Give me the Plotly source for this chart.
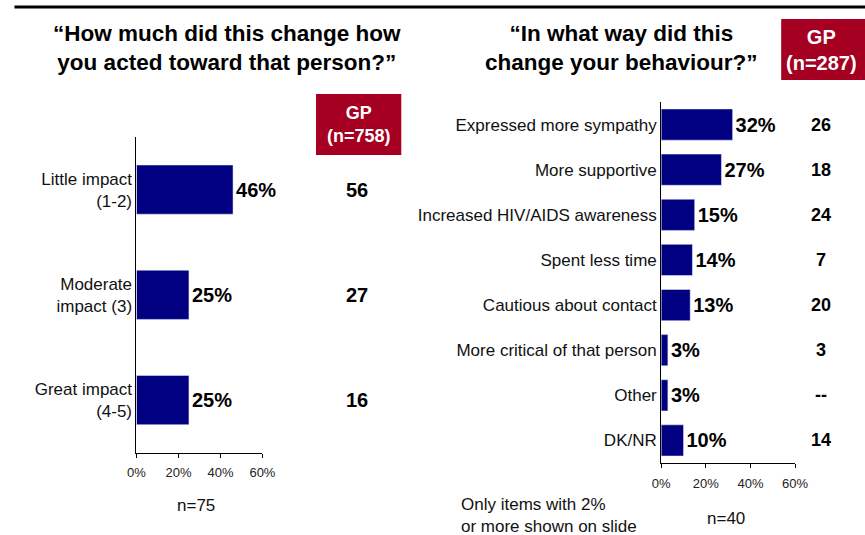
import plotly.graph_objects as go

# Left chart data
left_cats = ["Little impact<br>(1-2)", "Moderate<br>impact (3)", "Great impact<br>(4-5)"]
left_vals = [46, 25, 25]
left_gp = ["56", "27", "16"]

# Right chart data
right_cats = ["Expressed more sympathy", "More supportive", "Increased HIV/AIDS awareness",
              "Spent less time", "Cautious about contact", "More critical of that person",
              "Other", "DK/NR"]
right_vals = [32, 27, 15, 14, 13, 3, 3, 10]
right_gp = ["26", "18", "24", "7", "20", "3", "--", "14"]

x_ticks = [0, 20, 40, 60]

W, H = 865, 535
NAVY = "#000080"
RED = "#A50021"
ARIAL = "Liberation Sans, Arial, sans-serif"

def px(x):
    return (x - 4.5) / W

def py(y):
    return 1 - y / H

fig = go.Figure()
fig.add_trace(go.Bar(x=left_vals, y=left_cats, orientation="h", marker_color=NAVY,
                     width=0.467, text=[f"{v}%" for v in left_vals], textposition="outside",
                     textfont=dict(family=ARIAL, size=20, color="black", weight="bold"),
                     cliponaxis=False, hoverinfo="skip", xaxis="x", yaxis="y"))
fig.add_trace(go.Bar(x=right_vals, y=right_cats, orientation="h", marker_color=NAVY,
                     width=0.69, text=[f"{v}%" for v in right_vals], textposition="outside",
                     textfont=dict(family=ARIAL, size=20, color="black", weight="bold"),
                     cliponaxis=False, hoverinfo="skip", xaxis="x2", yaxis="y2"))

xcommon = dict(range=[0, 60], tickvals=x_ticks, ticktext=[f"{t}%" for t in x_ticks],
               showline=True, linecolor="black", linewidth=1, ticks="outside", ticklen=4,
               tickcolor="black", showgrid=False, zeroline=False, ticklabelstandoff=4,
               tickfont=dict(family=ARIAL, size=13, color="#222"))
ycommon = dict(type="category", showline=True, linecolor="black", linewidth=1, ticks="",
               showgrid=False, zeroline=False,
               tickfont=dict(family=ARIAL, size=17, color="#111"))

fig.update_layout(
    width=880, height=H, autosize=False, margin=dict(l=0, r=0, t=0, b=0),
    plot_bgcolor="white", paper_bgcolor="white", showlegend=False,
    xaxis=dict(domain=[px(133), px(260)], anchor="y", **xcommon),
    yaxis=dict(domain=[py(452.7), py(137)], anchor="x", range=[2.5, -0.5], **ycommon),
    xaxis2=dict(domain=[px(662), px(797)], anchor="y2", **xcommon),
    yaxis2=dict(domain=[py(463), py(102)], anchor="x2", range=[7.5, -0.5], **ycommon),
)

shapes = [
    dict(type="line", xref="paper", yref="paper", x0=px(10), x1=1, y0=py(7), y1=py(7),
         line=dict(color="black", width=3)),
    dict(type="rect", xref="paper", yref="paper", x0=px(314), x1=px(400), y0=py(155), y1=py(94),
         fillcolor=RED, line=dict(width=0)),
    dict(type="rect", xref="paper", yref="paper", x0=px(783), x1=1, y0=py(80), y1=py(19),
         fillcolor=RED, line=dict(width=0)),
]
fig.update_layout(shapes=shapes)

def note(text, x, y, size, color="black", bold=False, xanchor="center", align="center",
         yref="paper"):
    return dict(text=text, x=px(x), y=py(y) if yref == "paper" else y, xref="paper", yref=yref,
                xanchor=xanchor, yanchor="middle", align=align, showarrow=False,
                font=dict(family=ARIAL, size=size, color=color,
                          weight="bold" if bold else "normal"))

ann = [
    note("\u201cHow much did this change how<br>you acted toward that person?\u201d", 224, 48, 22.5, bold=True),
    note("\u201cIn what way did this<br>change your behaviour?\u201d", 622, 48, 22.5, bold=True),
    note("GP<br>(n=758)", 357, 124.5, 18, color="white", bold=True),
    note("GP<br>(n=287)", 824, 50, 20, color="white", bold=True),
    note("n=75", 193, 505, 17, color="#111"),
    note("n=40", 727, 518, 17, color="#111"),
    note("Only items with 2%<br>or more shown on slide", 458, 515, 17, color="#111",
         xanchor="left", align="left"),
]
for c, g in zip(left_cats, left_gp):
    ann.append(note(g, 355, c, 20, bold=True, yref="y"))
for c, g in zip(right_cats, right_gp):
    ann.append(note(g, 823, c, 18, bold=True, yref="y2"))
fig.update_layout(annotations=ann)

fig.write_html("out.html",
               config={"displayModeBar": False, "responsive": False},
               post_script="document.body.style.margin='0';document.body.style.overflow='hidden';")
